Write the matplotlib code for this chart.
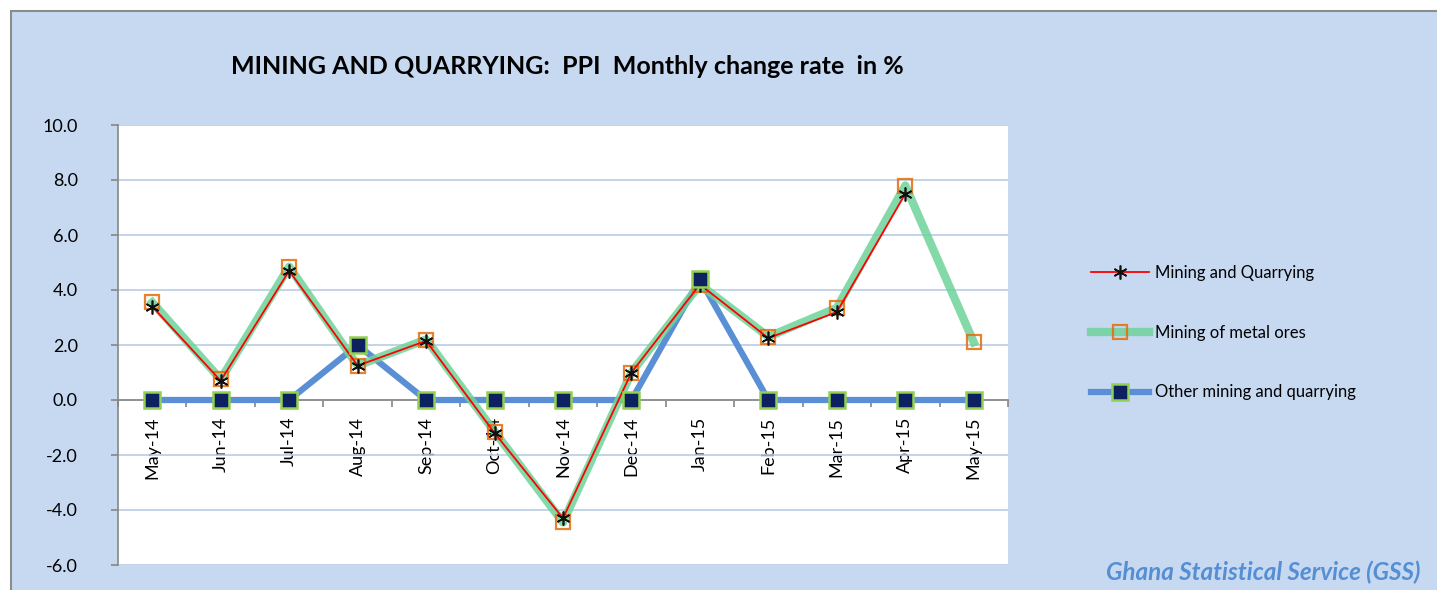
import matplotlib
matplotlib.use("Agg")
import matplotlib.pyplot as plt
import numpy as np
from matplotlib.patches import Rectangle

months = ["May-14", "Jun-14", "Jul-14", "Aug-14", "Sep-14", "Oct-14", "Nov-14",
          "Dec-14", "Jan-15", "Feb-15", "Mar-15", "Apr-15", "May-15"]
mining_quarrying = [3.4, 0.7, 4.7, 1.25, 2.15, -1.2, -4.3, 1.0, 4.2, 2.25, 3.2, 7.5, np.nan]
metal_ores = [3.55, 0.75, 4.85, 1.25, 2.2, -1.15, -4.45, 1.0, 4.2, 2.3, 3.35, 7.8, 2.1]
other_mining = [0.0, 0.0, 0.0, 2.0, 0.0, 0.0, 0.0, 0.0, 4.4, 0.0, 0.0, 0.0, 0.0]
yticks = [-6.0, -4.0, -2.0, 0.0, 2.0, 4.0, 6.0, 8.0, 10.0]

plt.rcParams['font.family'] = ['Lato', 'DejaVu Sans']

W, H = 1437, 590
fig = plt.figure(figsize=(W / 100, H / 100), dpi=100)
fig.patch.set_facecolor('white')
bg = Rectangle((10.5 / W, -0.05), 1.1, 1 - 10.5 / H + 0.05, transform=fig.transFigure,
               facecolor='#c6d9f1', edgecolor='#8c8c8c', linewidth=1.5, zorder=-10)
fig.patches.append(bg)

ax = fig.add_axes([118 / W, 1 - 565 / H, (1008 - 118) / W, (565 - 125) / H], zorder=1)
ax.set_facecolor('white')
x = np.arange(len(months))

ax.set_xlim(-0.5, len(months) - 0.5)
ax.set_ylim(-6, 10)
ax.set_yticks(yticks)
ax.set_yticklabels([f"{v:.1f}" for v in yticks], fontsize=13)
ax.yaxis.grid(True, color='#b9cde5', linewidth=1.2, zorder=0)
ax.set_axisbelow(True)
ax.tick_params(axis='y', length=5, width=1.2, color='#868686', pad=24)
for lab in ax.get_yticklabels():
    lab.set_horizontalalignment('right')

for s in ['top', 'right']:
    ax.spines[s].set_visible(False)
ax.spines['left'].set_color('#868686')
ax.spines['left'].set_linewidth(1.2)
ax.spines['bottom'].set_position(('data', 0))
ax.spines['bottom'].set_color('#868686')
ax.spines['bottom'].set_linewidth(1.2)

ax.set_xticks(x)
ax.set_xticklabels(months, rotation=90, fontsize=13, va='top', ha='center')
ax.tick_params(axis='x', which='major', length=0, pad=12)
ax.set_xticks(np.arange(-0.5, len(months) + 0.5, 1.0), minor=True)
ax.tick_params(axis='x', which='minor', length=5, width=1.2, color='#868686', direction='out')

ax.plot(x, other_mining, color='#5b8fd5', linewidth=4.5, solid_capstyle='round', zorder=3)
ax.plot(x, metal_ores, color='#6fd39a', alpha=0.85, linewidth=6, zorder=4,
        marker='s', markersize=10, markerfacecolor='none', markeredgecolor='#e46c0a',
        markeredgewidth=1.6)
ax.plot(x, mining_quarrying, color='#ff0000', linewidth=1.3, zorder=5,
        marker=(6, 2, 0), markersize=10, markeredgecolor='#111111', markerfacecolor='#111111',
        markeredgewidth=1.2)
ax.plot(x, other_mining, linestyle='none', marker='s', markersize=11,
        markerfacecolor='#0d2060', markeredgecolor='#92d050', markeredgewidth=1.8, zorder=6)

# legend handles
h1, = ax.plot([], [], color='#ff0000', linewidth=1.3, marker=(6, 2, 0), markersize=10,
              markeredgecolor='#111111', markeredgewidth=1.2)
h2, = ax.plot([], [], color='#6fd39a', alpha=0.85, linewidth=6, marker='s', markersize=10,
              markerfacecolor='none', markeredgecolor='#e46c0a', markeredgewidth=1.6)
h3, = ax.plot([], [], color='#5b8fd5', linewidth=4.5, marker='s', markersize=11,
              markerfacecolor='#0d2060', markeredgecolor='#92d050', markeredgewidth=1.8)
fig.legend([h1, h2, h3], ["Mining and Quarrying", "Mining of metal ores", "Other mining and quarrying"],
           loc='upper left', bbox_to_anchor=(1076 / W, 1 - 250 / H), frameon=False,
           fontsize=12, handlelength=3.5, handletextpad=0.35, labelspacing=2.62)

fig.text(567 / W, 1 - 67 / H, "MINING AND QUARRYING:  PPI  Monthly change rate  in %",
         ha='center', va='center', fontsize=18, fontweight='bold', color='black')
fig.text(1420 / W, 1 - 572 / H, "Ghana Statistical Service (GSS)", ha='right', va='center',
         fontsize=17.5, fontweight='bold', fontstyle='italic', color='#558ed5')

fig.savefig('out.png', dpi=100, facecolor=fig.get_facecolor())
